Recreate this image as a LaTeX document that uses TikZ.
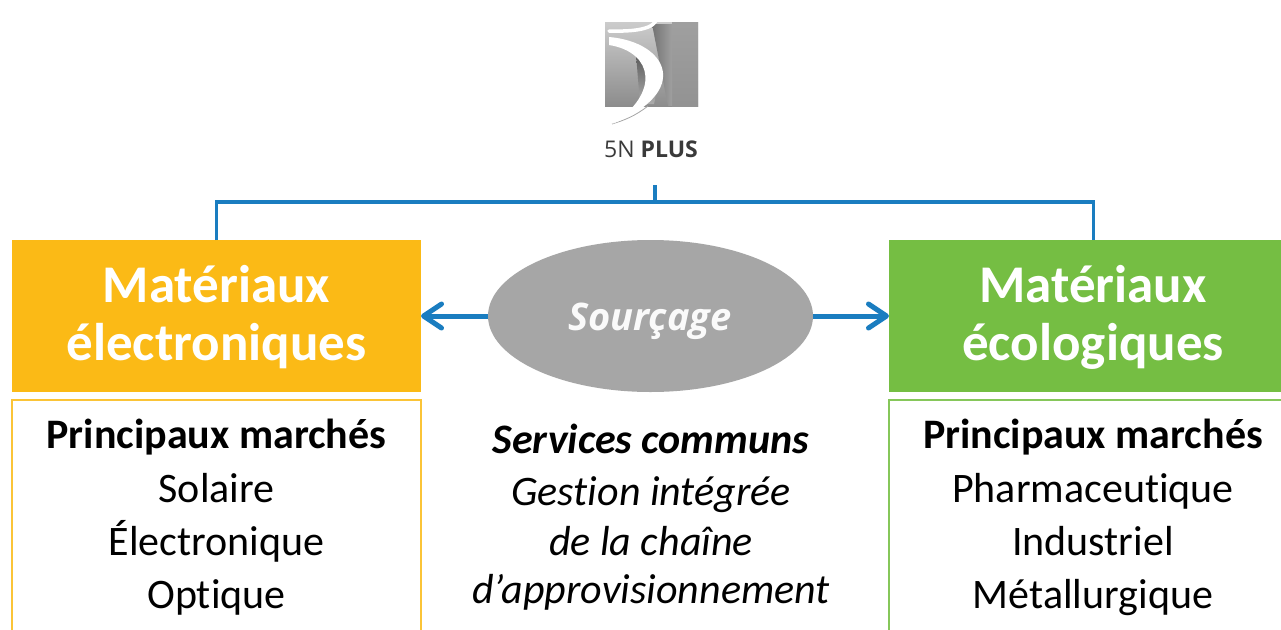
\documentclass[tikz,border=0pt]{standalone}
\usepackage{fontspec}
\setmainfont{Carlito}[Ligatures=NoCommon]
\newfontfamily\osans{Open Sans}
\usetikzlibrary{arrows.meta,shapes.geometric}
\definecolor{orng}{HTML}{FBBA16}
\definecolor{orngl}{HTML}{FBC437}
\definecolor{grn}{HTML}{75BE43}
\definecolor{grnl}{HTML}{86C75A}
\definecolor{blu}{HTML}{1A7DC0}
\definecolor{elgray}{HTML}{A6A6A6}
\definecolor{logogray}{HTML}{3A3A3A}
\begin{document}
\begin{tikzpicture}[x=1pt,y=-1pt,
  conn/.style={draw=blu, line width=3.5pt},
  arr/.style={draw=blu, line width=5pt, -{Straight Barb[length=18pt,width=24pt,round]}},
  headbox/.style={anchor=north west, minimum width=409pt, minimum height=152pt, inner sep=0pt, outer sep=0pt},
  listbox/.style={anchor=north west, minimum width=409pt, minimum height=240pt, inner sep=0pt, outer sep=0pt, fill=white, line width=2pt},
  head/.style={anchor=base, inner sep=0pt, text=white, font=\fontsize{53}{58}\selectfont\bfseries},
  body/.style={anchor=base, inner sep=0pt, font=\fontsize{42}{48}\selectfont},
  bodyb/.style={body, font=\fontsize{42}{48}\selectfont\bfseries},
  bodyi/.style={body, font=\fontsize{42}{48}\selectfont\itshape},
  bodybi/.style={body, font=\fontsize{42}{48}\selectfont\bfseries\itshape}
]
\useasboundingbox (0,0) rectangle (1281,629);
\clip (0,0) rectangle (1281,629);
\fill[white] (0,0) rectangle (1281,629);

% logo
\shade[top color=gray!40, bottom color=gray!90] (605,22) rectangle (698,106);
\shade[top color=gray!75, bottom color=gray!85] (672,22) rectangle (698,106);
\shade[left color=black!55, right color=gray!75]
  (652,24) -- (672,24) -- (672,106) -- (668,106) -- cycle;
\shade[top color=black!65, bottom color=gray!65]
  (636,54) .. controls (652,60) and (660,82) .. (654,104) -- (640,104) -- cycle;
\draw[gray!70, line width=0.8pt] (648,106) .. controls (635,116) and (625,120) .. (612,124);
\fill[white]
  (609,37) .. controls (668,42) and (692,92) .. (612,124)
  .. controls (660,94) and (654,52) .. (609,45) -- cycle;
\draw[white, line width=3.5pt, line cap=round]
  (657,13) .. controls (659,26) and (646,32) .. (609,31);
\node[anchor=base, inner sep=0pt, font=\osans\fontsize{23}{25}\selectfont, text=logogray] (logotxt) at (651,157) {5N \textbf{PLUS}};
\coordinate (stem) at (655,185);
\coordinate (hub) at (655,202);

% boxes
\node[headbox, fill=orng] (elec) at (12,240) {};
\node[headbox, fill=grn] (eco) at (889,240) {};
\node[listbox, draw=orngl] (elecm) at (12,400) {};
\node[listbox, draw=grnl] (ecom) at (889,400) {};
\node[ellipse, fill=elgray, minimum width=325pt, minimum height=152pt, inner sep=0pt] (src) at (650.5,316) {};

% connectors
\draw[conn] (elec.north) |- (hub) -| (eco.north);
\draw[conn] (stem) -- (hub);
\draw[arr] (src.west) -- (elec.east);
\draw[arr] (src.east) -- (eco.west);

% texts
\node[anchor=base, inner sep=0pt, text=white!96!gray, font=\osans\bfseries\itshape\fontsize{38}{40}\selectfont] (srct) at (650,330) {Sourçage};

\node[head] (h1a) at (216.5,302) {Matériaux};
\node[head] (h1b) at (216.5,360) {électroniques};
\node[head] (h2a) at (1093,302) {Matériaux};
\node[head] (h2b) at (1093,360) {écologiques};

\node[bodyb] (l1) at (216.5,448) {Principaux marchés};
\node[body] (l2) at (216.5,502) {Solaire};
\node[body] (l3) at (216.5,555) {Électronique};
\node[body] (l4) at (216.5,608) {Optique};

\node[bodyb] (r1) at (1093,448) {Principaux marchés};
\node[body] (r2) at (1093,502) {Pharmaceutique};
\node[body] (r3) at (1093,555) {Industriel};
\node[body] (r4) at (1093,608) {Métallurgique};

\node[bodybi] (c1) at (651,453) {Services communs};
\node[bodyi] (c2) at (651,505) {Gestion intégrée};
\node[bodyi] (c3) at (651,555) {de la chaîne};
\node[bodyi] (c4) at (651,603) {d’approvisionnement};
\end{tikzpicture}
\end{document}
